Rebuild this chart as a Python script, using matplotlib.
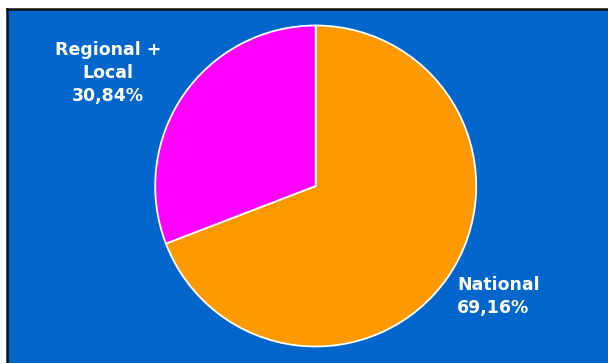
import matplotlib
matplotlib.use("Agg")
import matplotlib.pyplot as plt
from matplotlib.patches import Rectangle
from matplotlib.lines import Line2D

# Share of spending by level
categories = ["National", "Regional +\nLocal"]
shares = [69.16, 30.84]
colors = ["#FF9900", "#FF00FF"]

W, H = 608, 363
fig = plt.figure(figsize=(W / 100, H / 100), dpi=100)
fig.patch.set_facecolor("white")


def fx(x):
    return x / W


def fy(y):
    return 1 - y / H


# Blue panel with dark frame on top and left
fig.patches.append(Rectangle((fx(7), 0), 1 - fx(7), fy(9), transform=fig.transFigure,
                             facecolor="#0066CC", edgecolor="none", zorder=-2))
fig.lines.append(Line2D([fx(6.5), 1], [fy(8.5), fy(8.5)], transform=fig.transFigure,
                        color="#111111", lw=1.8, zorder=-1))
fig.lines.append(Line2D([fx(6.5), fx(6.5)], [fy(8.5), 0], transform=fig.transFigure,
                        color="#111111", lw=1.8, zorder=-1))

cx, cy, r = 315.7, 186.0, 160.5
ax = fig.add_axes([fx(cx - r), fy(cy + r), 2 * r / W, 2 * r / H])
ax.set_facecolor("none")
ax.set_zorder(1)
ax.pie(shares, colors=colors, startangle=90, counterclock=False, radius=1,
       wedgeprops=dict(edgecolor="white", linewidth=1.3))
ax.set_xlim(-1, 1)
ax.set_ylim(-1, 1)
ax.set_aspect("auto")
ax.axis("off")


def fmt(v):
    return f"{v:.2f}".replace(".", ",") + "%"


font = dict(color="white", fontweight="bold", fontsize=12.5, family="DejaVu Sans",
            va="center", zorder=2)


def label(lines, x, y0, ha):
    for i, line in enumerate(lines):
        fig.text(fx(x), fy(y0 + 23 * i), line, ha=ha, **font)


label(categories[0].split("\n") + [fmt(shares[0])], 457, 285, "left")
label(categories[1].split("\n") + [fmt(shares[1])], 108, 50, "center")

fig.savefig("out.png", dpi=100)
